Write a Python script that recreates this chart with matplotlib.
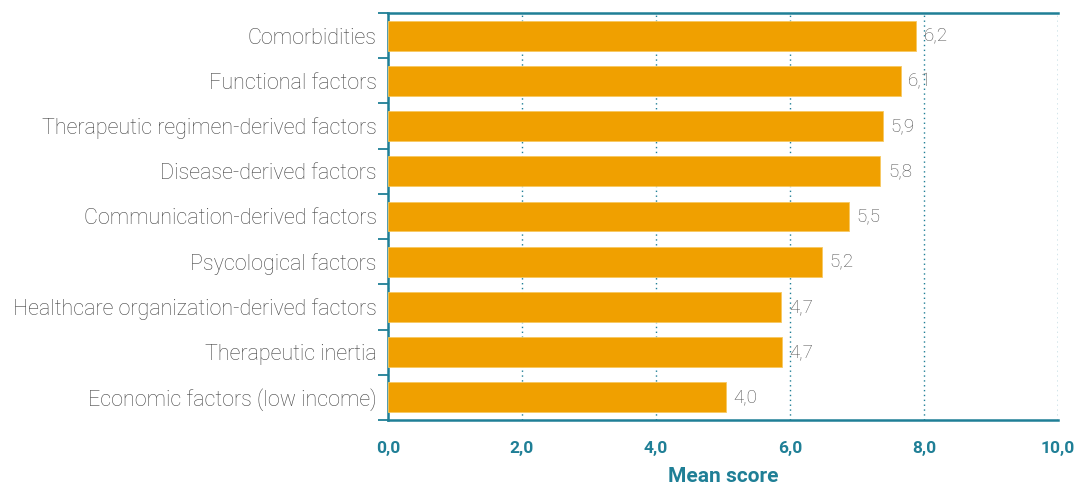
import matplotlib
matplotlib.use("Agg")
import matplotlib.pyplot as plt
import numpy as np

categories = [
    "Comorbidities",
    "Functional factors",
    "Therapeutic regimen-derived factors",
    "Disease-derived factors",
    "Communication-derived factors",
    "Psycological factors",
    "Healthcare organization-derived factors",
    "Therapeutic inertia",
    "Economic factors (low income)",
]
# bar lengths as drawn on the axis
bar_lengths = [7.88, 7.65, 7.39, 7.35, 6.88, 6.48, 5.87, 5.88, 5.04]
# value labels printed next to bars
value_labels = ["6,2", "6,1", "5,9", "5,8", "5,5", "5,2", "4,7", "4,7", "4,0"]
x_ticks = [0, 2, 4, 6, 8, 10]
x_tick_labels = ["0,0", "2,0", "4,0", "6,0", "8,0", "10,0"]

teal = "#1f7f96"
orange = "#F0A000"
gray = "#444444"

plt.rcParams['font.family'] = ['Roboto', 'DejaVu Sans']

fig = plt.figure(figsize=(10.75, 4.84), dpi=100)
ax = fig.add_axes([388/1075, 1 - 420/484, (1058-388)/1075, (420-13)/484])

y = np.arange(len(categories))
ax.barh(y, bar_lengths, height=0.66, color=orange, edgecolor="#f7c860", linewidth=0.6, zorder=3)
for yi, v, lab in zip(y, bar_lengths, value_labels):
    ax.annotate(lab, (v, yi), xytext=(5.5, 0), textcoords="offset points",
                va="center", ha="left", fontsize=13.5, color="#505050", fontweight="light")

ax.set_xlim(0, 10)
ax.set_ylim(8.45, -0.5)
ax.set_xticks(x_ticks)
ax.set_xticklabels(x_tick_labels, fontsize=12.5, fontweight="bold", color=teal)
ax.set_yticks(y)
ax.set_yticklabels(categories, fontsize=15.5, color=gray, fontweight="light")
ax.tick_params(axis="y", which="major", length=0, pad=8)
ax.tick_params(axis="x", which="major", length=0, pad=15)
ax.set_yticks(np.arange(-0.5, len(categories), 1.0), minor=True)
ax.tick_params(axis="y", which="minor", length=7, width=1.3, color=teal, direction="out")

ax.xaxis.grid(True, linestyle=(0, (1, 2.5)), color=teal, linewidth=1.0, zorder=0)
ax.set_axisbelow(True)

for s in ["left", "bottom", "top"]:
    ax.spines[s].set_color(teal)
    ax.spines[s].set_linewidth(1.8)
ax.spines["right"].set_visible(False)

ax.set_xlabel("Mean score", fontsize=15, fontweight="bold", color=teal, labelpad=8)

fig.savefig("out.png", dpi=100)
